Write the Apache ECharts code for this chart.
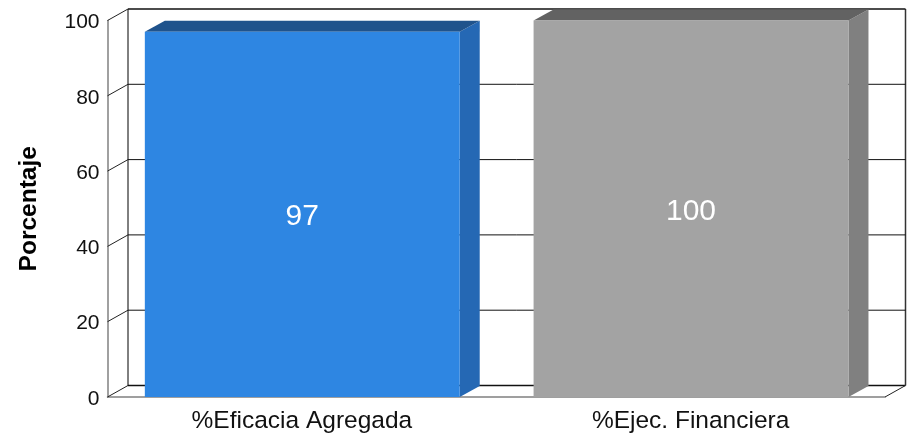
<!DOCTYPE html>
<html><head><meta charset="utf-8">
<style>html,body{margin:0;padding:0;background:#fff}#c{width:907px;height:435px}</style>
<script src="https://cdn.jsdelivr.net/npm/echarts@6/dist/echarts.min.js"></script>
</head><body><div id="c"></div>
<script>
const categories = ['%Eficacia Agregada', '%Ejec. Financiera'];
const values = [97, 100];
const yTicks = [0, 20, 40, 60, 80, 100];
const yAxisName = 'Porcentaje';

const faceColors = [
  { front: '#2E86E2', top: '#1F538C', side: '#2568B4' },
  { front: '#A3A3A3', top: '#626262', side: '#808080' }
];
const depthX = 20.5, depthY = -11.5;
const barDepthX = 20, barDepthY = -11;
const FONT = '"Liberation Sans", Arial, sans-serif';

const chart = echarts.init(document.getElementById('c'), null, { renderer: 'canvas' });

function wallItem(params, api) {
  const v = api.value(0);
  const cs = params.coordSys;
  const y = api.coord([0, v])[1];
  const xL = cs.x, xR = cs.x + cs.width;
  const children = [
    { type: 'line', shape: { x1: xL, y1: y, x2: xL + depthX, y2: y + depthY },
      style: { stroke: '#222', lineWidth: 1 } },
    { type: 'line', shape: { x1: xL + depthX, y1: y + depthY, x2: xR + depthX, y2: y + depthY },
      style: { stroke: '#111', lineWidth: v === 0 || v === 100 ? 1.5 : 1 } }
  ];
  if (v === 0) {
    const yt = api.coord([0, 100])[1];
    children.push(
      { type: 'line', shape: { x1: xL + depthX, y1: y + depthY, x2: xL + depthX, y2: yt + depthY },
        style: { stroke: '#000', lineWidth: 1 } },
      { type: 'line', shape: { x1: xR + depthX, y1: y + depthY, x2: xR + depthX, y2: yt + depthY },
        style: { stroke: '#333', lineWidth: 1.5 } },
      { type: 'line', shape: { x1: xR, y1: y, x2: xR + depthX, y2: y + depthY },
        style: { stroke: '#222', lineWidth: 1 } }
    );
  }
  return { type: 'group', children };
}

function barItem(params, api) {
  const i = api.value(0), v = api.value(1);
  const top = api.coord([i, v]), base = api.coord([i, 0]);
  const w = api.size([1, 0])[0] * 0.81;
  const x0 = top[0] - w / 2 + 0.4, x1 = x0 + w;
  const c = faceColors[i];
  return {
    type: 'group',
    children: [
      { type: 'polygon', shape: { points: [[x1, base[1]], [x1 + barDepthX, base[1] + barDepthY], [x1 + barDepthX, top[1] + barDepthY], [x1, top[1]]] },
        style: { fill: c.side } },
      { type: 'polygon', shape: { points: [[x0, top[1]], [x0 + barDepthX, top[1] + barDepthY], [x1 + barDepthX, top[1] + barDepthY], [x1, top[1]]] },
        style: { fill: c.top } },
      { type: 'rect', shape: { x: x0, y: top[1], width: w, height: base[1] - top[1] },
        style: { fill: c.front } },
      { type: 'text', x: (x0 + x1) / 2, y: (top[1] + base[1]) / 2 + 2.5,
        style: { text: String(v), fill: '#fff', font: '30px ' + FONT, textAlign: 'center', textVerticalAlign: 'middle' } }
    ]
  };
}

chart.setOption({
  animation: false,
  backgroundColor: '#fff',
  grid: { left: 107.5, top: 20.5, width: 777.5, height: 376.5, containLabel: false },
  xAxis: {
    type: 'category', data: categories,
    axisTick: { show: false },
    axisLine: { show: true, onZero: false, lineStyle: { color: '#808080', width: 1.5 } },
    axisLabel: { color: '#111', fontFamily: FONT, fontSize: 24.5, margin: 12 },
    splitLine: { show: false }
  },
  yAxis: {
    type: 'value', min: 0, max: 100, interval: 20,
    name: yAxisName, nameLocation: 'middle', nameGap: 66, nameRotate: 90,
    nameTextStyle: { color: '#000', fontFamily: FONT, fontSize: 24.5, fontWeight: 'bold' },
    axisTick: { show: false },
    axisLine: { show: true, lineStyle: { color: '#808080', width: 1.5 } },
    axisLabel: { margin: 8, formatter: '{a|{value}}',
      rich: { a: { color: '#111', fontFamily: FONT, fontSize: 21, padding: [4, 0, 0, 0] } } },
    splitLine: { show: false }
  },
  series: [
    { type: 'custom', coordinateSystem: 'cartesian2d', renderItem: wallItem,
      data: yTicks.map(t => [t]), encode: { y: 0 }, silent: true, clip: false, z: 1 },
    { type: 'custom', coordinateSystem: 'cartesian2d', renderItem: barItem,
      data: values.map((v, i) => [i, v]), encode: { x: 0, y: 1 }, silent: true, clip: false, z: 2 }
  ]
});
</script></body></html>
